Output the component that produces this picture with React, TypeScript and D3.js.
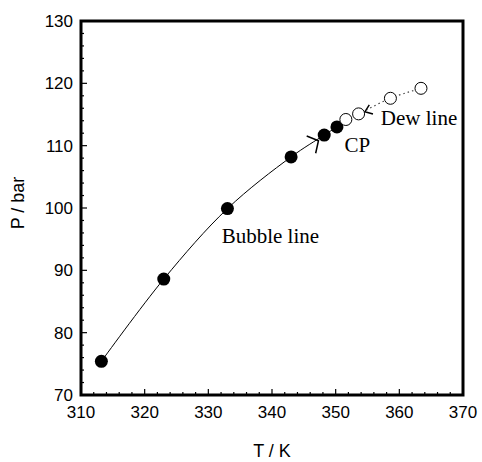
import React, { useRef, useEffect } from 'react';
import * as d3 from 'd3';

// bubble line (filled) and dew line (open) points, T in K, P in bar
const bubbleT = [313.2, 323.0, 333.0, 343.0, 348.2, 350.2];
const bubbleP = [75.4, 88.6, 99.9, 108.2, 111.7, 113.0];
const dewT = [351.6, 353.6, 358.6, 363.4];
const dewP = [114.2, 115.1, 117.6, 119.2];

// short arrow-like marks bracketing the critical point (data units)
const bubbleMark = [[345.45, 111.55], [347.3, 110.8], [346.86, 108.78]];
const dewMark = [[355.86, 115.08], [354.6, 115.45], [355.28, 116.53]];

const xTicks = [310, 320, 330, 340, 350, 360, 370];
const yTicks = [70, 80, 90, 100, 110, 120, 130];

const App = () => {
  const chartRef = useRef(null);

  useEffect(() => {
    drawChart();
  }, []);

  const drawChart = () => {
    d3.select(chartRef.current).selectAll('*').remove();

    const width = 482;
    const height = 462;
    const margin = { top: 21, right: 19, bottom: 67, left: 81 };
    const innerWidth = width - margin.left - margin.right;
    const innerHeight = height - margin.top - margin.bottom;

    const svg = d3
      .select(chartRef.current)
      .append('svg')
      .attr('width', width)
      .attr('height', height)
      .style('position', 'absolute')
      .style('left', 0)
      .style('top', 0)
      .style('background', '#fff');

    const g = svg.append('g').attr('transform', `translate(${margin.left},${margin.top})`);

    const x = d3.scaleLinear().domain([310, 370]).range([0, innerWidth]);
    const y = d3.scaleLinear().domain([70, 130]).range([innerHeight, 0]);

    const sans = 'Liberation Sans, Arial, sans-serif';
    const serif = 'Liberation Serif, Times New Roman, serif';

    // minor + major ticks, pointing inward
    const xMinor = d3.range(310, 370.1, 2);
    const yMinor = d3.range(70, 130.1, 2);
    g.selectAll('.xt')
      .data(xMinor)
      .enter()
      .append('line')
      .attr('x1', (d) => x(d))
      .attr('x2', (d) => x(d))
      .attr('y1', innerHeight)
      .attr('y2', (d) => innerHeight - (d % 10 === 0 ? 6 : 3))
      .attr('stroke', '#000')
      .attr('stroke-width', 1.2);
    g.selectAll('.yt')
      .data(yMinor)
      .enter()
      .append('line')
      .attr('y1', (d) => y(d))
      .attr('y2', (d) => y(d))
      .attr('x1', 0)
      .attr('x2', (d) => (d % 10 === 0 ? 6 : 3))
      .attr('stroke', '#000')
      .attr('stroke-width', 1.2);

    // frame
    g.append('rect')
      .attr('width', innerWidth)
      .attr('height', innerHeight)
      .attr('fill', 'none')
      .attr('stroke', '#000')
      .attr('stroke-width', 3);

    // tick labels
    g.selectAll('.xl')
      .data(xTicks)
      .enter()
      .append('text')
      .attr('x', (d) => x(d))
      .attr('y', innerHeight + 23)
      .attr('text-anchor', 'middle')
      .attr('font-family', sans)
      .attr('font-size', 17)
      .text((d) => d);
    g.selectAll('.yl')
      .data(yTicks)
      .enter()
      .append('text')
      .attr('x', -8)
      .attr('y', (d) => y(d))
      .attr('dy', '0.35em')
      .attr('text-anchor', 'end')
      .attr('font-family', sans)
      .attr('font-size', 17)
      .text((d) => d);

    // axis titles
    svg.append('text')
      .attr('x', margin.left + innerWidth / 2)
      .attr('y', 457)
      .attr('text-anchor', 'middle')
      .attr('font-family', sans)
      .attr('font-size', 18)
      .text('T / K');
    svg.append('text')
      .attr('transform', `translate(24,${margin.top + innerHeight / 2 - 5}) rotate(-90)`)
      .attr('text-anchor', 'middle')
      .attr('font-family', sans)
      .attr('font-size', 18)
      .text('P / bar');

    const bubble = bubbleT.map((t, i) => [t, bubbleP[i]]);
    const dew = dewT.map((t, i) => [t, dewP[i]]);

    const line = d3
      .line()
      .x((d) => x(d[0]))
      .y((d) => y(d[1]))
      .curve(d3.curveCatmullRom);

    g.append('path')
      .attr('d', line(bubble))
      .attr('fill', 'none')
      .attr('stroke', '#000')
      .attr('stroke-width', 1);

    g.append('path')
      .attr('d', line(dew))
      .attr('fill', 'none')
      .attr('stroke', '#444')
      .attr('stroke-width', 1.2)
      .attr('stroke-dasharray', '1.5,3');

    const straight = d3.line().x((d) => x(d[0])).y((d) => y(d[1]));
    [bubbleMark, dewMark].forEach((m) => {
      g.append('path')
        .attr('d', straight(m))
        .attr('fill', 'none')
        .attr('stroke', '#000')
        .attr('stroke-width', 1.5);
    });

    g.selectAll('.bp')
      .data(bubble)
      .enter()
      .append('circle')
      .attr('cx', (d) => x(d[0]))
      .attr('cy', (d) => y(d[1]))
      .attr('r', 6.5)
      .attr('fill', '#000');

    g.selectAll('.dp')
      .data(dew)
      .enter()
      .append('circle')
      .attr('cx', (d) => x(d[0]))
      .attr('cy', (d) => y(d[1]))
      .attr('r', 6)
      .attr('fill', '#fff')
      .attr('stroke', '#000')
      .attr('stroke-width', 1);

    // annotations
    const notes = [
      { t: 'Bubble line', tx: 332.1, py: 94.4 },
      { t: 'CP', tx: 351.4, py: 109.0 },
      { t: 'Dew line', tx: 357.1, py: 113.3 },
    ];
    g.selectAll('.note')
      .data(notes)
      .enter()
      .append('text')
      .attr('x', (d) => x(d.tx))
      .attr('y', (d) => y(d.py))
      .attr('font-family', serif)
      .attr('font-size', 21)
      .text((d) => d.t);
  };

  return <div ref={chartRef}></div>;
};

export default App;
